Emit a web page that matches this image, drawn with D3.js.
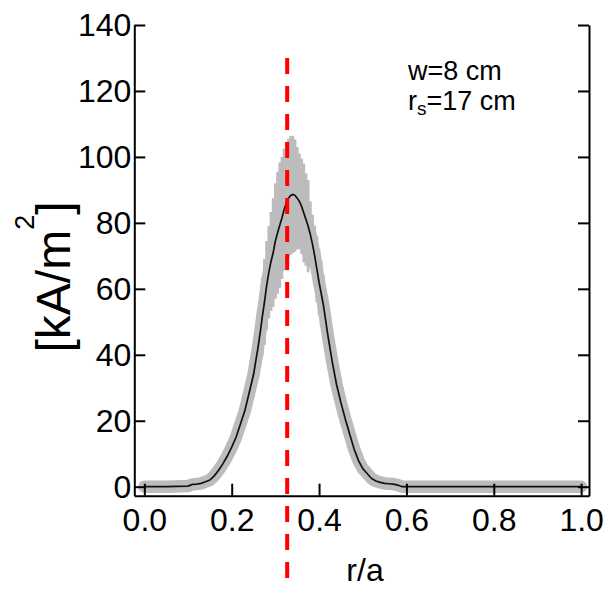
<!DOCTYPE html>
<html>
<head>
<meta charset="utf-8">
<script src="https://cdn.jsdelivr.net/npm/d3@7"></script>
<style>
body { margin: 0; background: #fff; }
text { font-family: "Liberation Sans", Arial, sans-serif; }
</style>
</head>
<body id="MyBody">
<svg id="graphe" width="612" height="589"></svg>
<script>

//données

var r_a = [0, 0.05, 0.1, 0.11, 0.12, 0.13, 0.14, 0.15, 0.16, 0.17, 0.18, 0.19, 0.2, 0.21, 0.22, 0.23, 0.24, 0.25,
           0.26, 0.265, 0.27, 0.275, 0.28, 0.285, 0.29, 0.295, 0.30, 0.305, 0.31, 0.315, 0.32, 0.325, 0.33, 0.335,
           0.34, 0.345, 0.35, 0.355, 0.36, 0.365, 0.37, 0.375, 0.38, 0.385, 0.39, 0.395, 0.40, 0.405, 0.41, 0.42,
           0.43, 0.44, 0.45, 0.46, 0.47, 0.48, 0.49, 0.50, 0.51, 0.52, 0.53, 0.54, 0.55, 0.56, 0.57, 0.58, 0.59,
           0.6, 0.7, 0.8, 0.9, 1.0];

// densité de courant [kA/m2]
var j_val = [0, 0, 0.2, 0.7, 0.8, 1.0, 1.5, 2, 3.3, 5, 7, 9.3, 12, 15, 19, 23, 28.5, 34,
             42, 46.5, 51.5, 56, 61, 65, 68.3, 71, 74.5, 77, 79.3, 81.5, 84, 86, 87.5, 88.3,
             88.6, 88.3, 87.5, 86.5, 85, 83, 81, 79, 76.5, 73.5, 70, 66, 62, 58.5, 55, 46,
             38, 31, 25.5, 20.5, 16, 11.5, 8, 5.5, 4, 2.5, 1.7, 1.3, 1.0, 0.9, 0.8, 0.5, 0,
             0, 0, 0, 0, 0];

// barres d'erreur
var j_err = [0, 0, 0, 0.1, 0.2, 0.2, 0.3, 0.4, 0.7, 1, 1.4, 1.9, 2.4, 3, 3.8, 4.6, 5.7, 6.8,
             9, 10, 12, 13, 13.5, 14, 15, 16.5, 17.5, 18.5, 19, 18.5, 18.5, 18.5, 18, 18,
             17.8, 17, 15.5, 14.5, 14.5, 15, 14, 14, 10, 9, 9, 10, 10, 10, 9, 8,
             7, 6, 5, 4, 3.2, 2.3, 1.6, 1.1, 0.8, 0.5, 0.3, 0.3, 0.2, 0.2, 0.2, 0.1, 0,
             0, 0, 0, 0, 0];

var x_ticks = [0, 0.2, 0.4, 0.6, 0.8, 1.0];
var x_labels = ["0.0", "0.2", "0.4", "0.6", "0.8", "1.0"];
var y_ticks = [0, 20, 40, 60, 80, 100, 120, 140];

var r_s = 0.327;          // surface rationnelle
var r_s_span = [130, -28]; // étendue verticale de la ligne rouge

var annot_w = "w=8 cm";
var annot_rs = ["r", "s", "=17 cm"];

//échelles
var x = d3.scaleLinear().domain([-0.023, 1.018]).range([134.3, 589]);
var y = d3.scaleLinear().domain([-2.73, 140]).range([495.7, 25]);

var svg = d3.select("#graphe");
var points = r_a.map(function(d, i){ return [d, j_val[i], j_err[i]] });

const gris = "#bcbcbc";

// barres d'erreur (grises)
svg.append("g")
   .selectAll("line")
   .data(points)
   .enter()
   .append("line")
   .attr("x1", d => x(d[0]))
   .attr("x2", d => x(d[0]))
   .attr("y1", d => y(d[1] - d[2]))
   .attr("y2", d => y(d[1] + d[2]))
   .attr("stroke", gris)
   .attr("stroke-width", 2.8);

var ligne = d3.line()
   .x(d => x(d[0]))
   .y(d => y(d[1]));

// bande grise épaisse
svg.append("path")
   .datum(points)
   .attr("d", ligne)
   .attr("fill", "none")
   .attr("stroke", gris)
   .attr("stroke-width", 12.5)
   .attr("stroke-linecap", "round")
   .attr("stroke-linejoin", "round");

// courbe noire
svg.append("path")
   .datum(points)
   .attr("d", ligne)
   .attr("fill", "none")
   .attr("stroke", "#111")
   .attr("stroke-width", 1.7);

//axes
var ax_bas = svg.append("g")
   .attr("transform", "translate(0," + y.range()[0] + ")")
   .call(d3.axisBottom(x).tickValues(x_ticks).tickSize(-12).tickSizeOuter(0).tickPadding(12.5)
         .tickFormat((d, i) => x_labels[i]));

var ax_gauche = svg.append("g")
   .attr("transform", "translate(" + x.range()[0] + ",0)")
   .call(d3.axisLeft(y).tickValues(y_ticks).tickSize(-11).tickSizeOuter(0).tickPadding(3));

var ax_droite = svg.append("g")
   .attr("transform", "translate(" + x.range()[1] + ",0)")
   .call(d3.axisRight(y).tickValues(y_ticks).tickSize(-11).tickSizeOuter(0).tickFormat(""));

svg.selectAll(".domain, .tick line")
   .attr("stroke", "#000")
   .attr("stroke-width", 2);

svg.selectAll(".tick text")
   .attr("font-family", "Liberation Sans, Arial, sans-serif")
   .attr("font-size", 32)
   .attr("fill", "#000");

ax_gauche.selectAll(".tick text").attr("dy", "0.34em");

// ligne rouge pointillée r_s
svg.append("line")
   .attr("x1", x(r_s))
   .attr("x2", x(r_s))
   .attr("y1", y(r_s_span[0]))
   .attr("y2", y(r_s_span[1]))
   .attr("stroke", "#ff0000")
   .attr("stroke-width", 4)
   .attr("stroke-dasharray", "16,12");

// titres des axes
svg.append("text")
   .attr("x", 365)
   .attr("y", 581)
   .attr("text-anchor", "middle")
   .attr("font-size", 32)
   .text("r/a");

var ylab = svg.append("text")
   .attr("transform", "translate(70,277) rotate(-90)")
   .attr("text-anchor", "middle")
   .attr("font-size", 48);
ylab.append("tspan").text("[kA/m");
ylab.append("tspan").attr("font-size", 27).attr("dy", -36).text("2");
ylab.append("tspan").attr("dy", 36).text("]");

// annotation
svg.append("text")
   .attr("x", 408)
   .attr("y", 80)
   .attr("font-size", 27)
   .text(annot_w);

var t2 = svg.append("text")
   .attr("x", 408)
   .attr("y", 110)
   .attr("font-size", 27);
t2.append("tspan").text(annot_rs[0]);
t2.append("tspan").attr("font-size", 19).attr("dy", 5).text(annot_rs[1]);
t2.append("tspan").attr("dy", -5).text(annot_rs[2]);

</script>
</body>
</html>
